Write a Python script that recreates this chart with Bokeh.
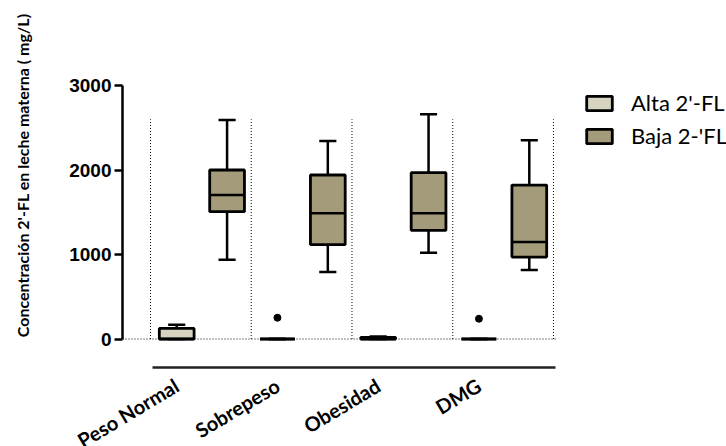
from bokeh.plotting import figure
from bokeh.models import (Range1d, LinearAxis, FixedTicker, Legend, LegendItem,
                          Span, Title)
from bokeh.embed import file_html
from bokeh.resources import INLINE

# ---- data ----
categories = ["Peso Normal", "Sobrepeso", "Obesidad", "DMG"]
series = ["Alta 2'-FL", "Baja 2-'FL"]

alta_min = [0, 0, 0, 0]
alta_q1 = [0, 0, 0, 0]
alta_med = [0, 0, 0, 0]
alta_q3 = [125, 0, 20, 0]
alta_max = [170, 0, 30, 0]
alta_out_cat = ["Sobrepeso", "DMG"]
alta_out_val = [252, 240]

baja_min = [939, 793, 1021, 817]
baja_q1 = [1507, 1116, 1286, 970]
baja_med = [1704, 1487, 1487, 1148]
baja_q3 = [2000, 1941, 1968, 1822]
baja_max = [2592, 2343, 2659, 2351]

y_ticks = [0, 1000, 2000, 3000]
y_title = "Concentración 2'-FL en leche materna ( mg/L)"
separator_top = 2600

# ---- styling ----
alta_color = "#d6d3c0"
baja_color = "#a39b7a"
box_w = 0.345
cap_w = 0.17
offsets = [-0.24, 0.26]
label_shift = -0.24

pos = {c: i + 1 for i, c in enumerate(categories)}

p = figure(width=726, height=446, output_backend="svg", toolbar_location=None,
           x_range=Range1d(0.222, 4.53), y_range=Range1d(-337, 3000),
           x_axis_location=None, y_axis_location=None,
           min_border_left=122, min_border_right=170, min_border_top=85,
           min_border_bottom=79, outline_line_color=None)
p.frame_width = 434
p.frame_height = 282
p.grid.visible = False
p.background_fill_color = "white"
p.border_fill_color = "white"

# separators and baseline
seps = [i + 0.5 for i in range(len(categories) + 1)]
p.segment(x0=seps, x1=seps, y0=0, y1=separator_top, line_color="black",
          line_width=1, line_dash="1 2")
p.add_layout(Span(location=0, dimension="width", line_color="black",
                  line_width=1, line_dash="1 2"))

renderers = []
for s_i, (mn, q1, md, q3, mx, col) in enumerate([
        (alta_min, alta_q1, alta_med, alta_q3, alta_max, alta_color),
        (baja_min, baja_q1, baja_med, baja_q3, baja_max, baja_color)]):
    xs = [pos[c] + offsets[s_i] for c in categories]
    p.segment(x0=xs, x1=xs, y0=q3, y1=mx, line_color="black", line_width=2.5)
    p.segment(x0=xs, x1=xs, y0=mn, y1=q1, line_color="black", line_width=2.5)
    p.segment(x0=[x - cap_w / 2 for x in xs], x1=[x + cap_w / 2 for x in xs],
              y0=mx, y1=mx, line_color="black", line_width=2.5)
    p.segment(x0=[x - cap_w / 2 for x in xs], x1=[x + cap_w / 2 for x in xs],
              y0=mn, y1=mn, line_color="black", line_width=2.5)
    r = p.quad(left=[x - box_w / 2 for x in xs], right=[x + box_w / 2 for x in xs],
               bottom=q1, top=q3, fill_color=col, line_color="black",
               line_width=2.8)
    renderers.append(r)
    p.segment(x0=[x - box_w / 2 for x in xs], x1=[x + box_w / 2 for x in xs],
              y0=md, y1=md, line_color="black", line_width=2.5)

p.scatter(x=[pos[c] + offsets[0] for c in alta_out_cat], y=alta_out_val,
          size=7, color="black")

# y axis
yax = LinearAxis(ticker=FixedTicker(ticks=y_ticks), bounds=(0, 3000))
yax.axis_line_width = 2.5
yax.axis_line_color = "black"
yax.major_tick_line_width = 2.5
yax.major_tick_out = 8
yax.major_tick_in = 0
yax.minor_tick_out = 0
yax.minor_tick_in = 0
yax.major_label_text_font = "Liberation Sans"
yax.major_label_text_font_style = "bold"
yax.major_label_text_font_size = "19px"
yax.major_label_text_color = "black"
yax.major_label_standoff = 3
p.add_layout(yax, "left")

# empty spacer axis between the tick labels and the title
spacer = LinearAxis(ticker=FixedTicker(ticks=[]), axis_label=" ")
spacer.axis_line_alpha = 0
spacer.major_tick_out = 0
spacer.major_tick_in = 0
spacer.minor_tick_out = 0
spacer.minor_tick_in = 0
spacer.axis_label_text_alpha = 0
spacer.axis_label_text_font_size = "12px"
spacer.axis_label_standoff = 7
p.add_layout(spacer, "left")

# y title, raised above the frame centre as in the reference
ttl = Title(text=y_title, align="right", offset=-72, standoff=18,
            vertical_align="top",
            text_font="Lato", text_font_style="bold", text_font_size="16px",
            text_color="black")
p.add_layout(ttl, "left")

# x axis
xax = LinearAxis(ticker=FixedTicker(ticks=[pos[c] + label_shift for c in categories]),
                 bounds=(0.52, 4.52))
xax.major_label_overrides = {pos[c] + label_shift: c for c in categories}
xax.axis_line_width = 2.5
xax.axis_line_color = "#222222"
xax.major_tick_out = 0
xax.major_tick_in = 0
xax.minor_tick_out = 0
xax.minor_tick_in = 0
xax.major_label_orientation = 0.54
xax.major_label_text_font = "Lato"
xax.major_label_text_font_style = "bold"
xax.major_label_text_font_size = "20px"
xax.major_label_text_color = "black"
xax.major_label_standoff = 16
p.add_layout(xax, "below")

legend = Legend(items=[LegendItem(label=series[0], renderers=[renderers[0]]),
                       LegendItem(label=series[1], renderers=[renderers[1]])],
                location=(27, 218))
legend.glyph_width = 32
legend.glyph_height = 18
legend.label_text_font = "Lato"
legend.label_text_font_size = "22px"
legend.label_text_color = "black"
legend.label_standoff = 16
legend.spacing = 6
legend.padding = 0
legend.margin = 0
legend.border_line_alpha = 0
legend.background_fill_alpha = 0
p.add_layout(legend, "right")

open("out.html", "w").write(file_html(p, INLINE))
